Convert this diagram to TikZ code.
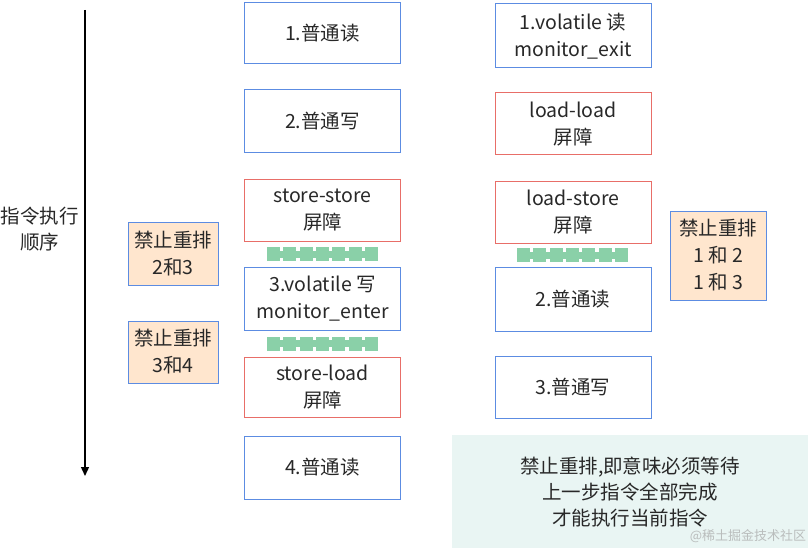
\documentclass[tikz,border=0pt]{standalone}
\usepackage{fontspec}
\setmainfont{Noto Sans CJK SC}
\usetikzlibrary{arrows.meta}
\definecolor{bblue}{RGB}{92,140,226}
\definecolor{bred}{RGB}{232,110,104}
\definecolor{peach}{RGB}{255,230,206}
\definecolor{mint}{RGB}{138,208,168}
\definecolor{pale}{RGB}{233,245,243}
\definecolor{txt}{RGB}{40,40,40}
\tikzset{
  stepbox/.style={draw=bblue, line width=1pt, fill=white, minimum width=156pt, inner sep=0pt, align=center, text=txt, font=\fontsize{19.5}{27}\selectfont},
  redbox/.style={stepbox, draw=bred},
  notebox/.style={draw=bblue, line width=1pt, fill=peach, inner sep=0pt, align=center, text=txt, font=\fontsize{19.5}{27}\selectfont},
  plain/.style={align=center, text=txt, inner sep=0pt, font=\fontsize{19.5}{26}\selectfont}
}
\newcommand{\gbar}[2]{%
  \fill[mint] (#1,#2-3.5) rectangle (#1+111,#2+3.5);
  \foreach \i in {0,...,6}{\fill[mint] (#1+\i*16.33,#2-7) rectangle (#1+\i*16.33+13,#2+7);}
}
\begin{document}
\begin{tikzpicture}[x=1pt,y=-1pt]
\useasboundingbox (0,0) rectangle (808,548);
\fill[white] (0,0) rectangle (808,548);
% bottom note
\fill[pale] (452,435) rectangle (808,548);
\node[plain] (note) at (630,492) {禁止重排,即意味必须等待\\上一步指令全部完成\\才能执行当前指令};
\node[text=black!35, opacity=0.7, font=\fontsize{13}{15}\selectfont] (wm) at (748,536) {@稀土掘金技术社区};
% arrow
\coordinate (atop) at (85,10);
\coordinate (abot) at (85,476);
\draw[line width=1.4pt, -{Triangle[length=9pt,width=8pt]}] (atop) -- (abot);
\node[plain] (order) at (40,229) {指令执行\\顺序};
% left column
\node[stepbox, minimum height=61pt] (L1) at (322.5,33.5) {1.普通读};
\node[stepbox, minimum height=63pt] (L2) at (322.5,121.5) {2.普通写};
\node[redbox, minimum height=61pt] (L3) at (322.5,210.5) {store-store\\屏障};
\node[stepbox, minimum height=63pt] (L4) at (322.5,298.5) {3.volatile 写\\monitor\_enter};
\node[redbox, minimum height=60pt] (L5) at (322.5,387) {store-load\\屏障};
\node[stepbox, minimum height=63pt] (L6) at (322.5,467.5) {4.普通读};
\gbar{267}{254}
\gbar{267}{343.5}
% right column
\node[stepbox, minimum height=64pt] (R1) at (573,36) {1.volatile 读\\monitor\_exit};
\node[redbox, minimum height=62pt] (R2) at (573,124) {load-load\\屏障};
\node[redbox, minimum height=61pt] (R3) at (573,212.5) {load-store\\屏障};
\node[stepbox, minimum height=64pt] (R4) at (573,299) {2.普通读};
\node[stepbox, minimum height=62pt] (R5) at (573,387) {3.普通写};
\gbar{517}{255}
% notes
\node[notebox, minimum width=90pt, minimum height=63pt] (N1) at (173,253.5) {禁止重排\\2和3};
\node[notebox, minimum width=90pt, minimum height=62pt] (N2) at (173,352) {禁止重排\\3和4};
\node[notebox, minimum width=96pt, minimum height=89pt] (N3) at (718,255.5) {禁止重排\\1 和 2\\1 和 3};
\end{tikzpicture}
\end{document}
